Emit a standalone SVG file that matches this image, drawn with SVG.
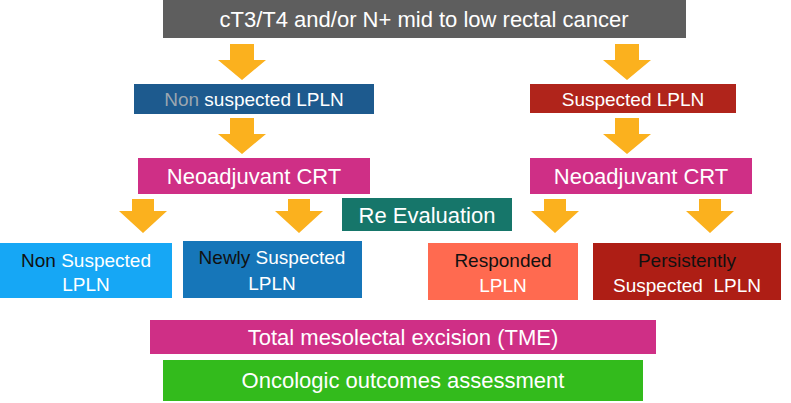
<svg xmlns="http://www.w3.org/2000/svg" width="791" height="403" viewBox="0 0 791 403">
<style>
text{font-family:"Liberation Sans",Arial,sans-serif;fill:#fff;text-anchor:middle}
.l{font-size:22px}.m{font-size:19px}.k{fill:#111}.g{fill:#9aa6b0}
.a{fill:#fbb11e}
</style>
<defs>
<path id="arr" d="M-12,0 H12 V16 H24 L0,36 L-24,16 H-12 Z"/>
<path id="arrs" d="M-11,0 H11 V12 H24 L0,34 L-24,12 H-11 Z"/>
</defs>
<g id="connectors" class="a">
<use href="#arr" x="242" y="44"/>
<use href="#arr" x="627" y="44"/>
<use href="#arr" x="242" y="118"/>
<use href="#arr" x="627" y="118"/>
<use href="#arrs" x="143" y="199"/>
<use href="#arrs" x="299" y="199"/>
<use href="#arrs" x="555" y="199"/>
<use href="#arrs" x="710" y="199"/>
</g>
<g id="top"><rect x="163" y="0" width="523" height="38" fill="#5e5e5e"/><text class="l" x="424" y="27">cT3/T4 and/or N+ mid to low rectal cancer</text></g>
<g id="nonsusp"><rect x="134" y="84" width="240" height="30" fill="#1d5a8e"/><text class="m" x="254" y="106"><tspan class="g">Non</tspan> suspected LPLN</text></g>
<g id="susp"><rect x="530" y="84" width="206" height="29" fill="#b0241b"/><text class="m" x="633" y="106">Suspected LPLN</text></g>
<g id="crt1"><rect x="138" y="158" width="232" height="36" fill="#cf2f86"/><text class="l" x="254" y="184">Neoadjuvant CRT</text></g>
<g id="crt2"><rect x="530" y="158" width="222" height="36" fill="#cf2f86"/><text class="l" x="641" y="184">Neoadjuvant CRT</text></g>
<g id="reeval"><rect x="342" y="198" width="170" height="33" fill="#16766a"/><text class="l" x="427" y="223">Re Evaluation</text></g>
<g id="n1"><rect x="0" y="243" width="172" height="55" fill="#16a7f5"/><text class="m" x="86" y="267"><tspan class="k">Non</tspan> Suspected</text><text class="m" x="86" y="291">LPLN</text></g>
<g id="n2"><rect x="183" y="241" width="179" height="57" fill="#1676b9"/><text class="m" x="272" y="264"><tspan class="k">Newly</tspan> Suspected</text><text class="m" x="272" y="290">LPLN</text></g>
<g id="n3"><rect x="428" y="243" width="150" height="57" fill="#ff6a50"/><text class="m k" x="503" y="267">Responded</text><text class="m" x="503" y="292">LPLN</text></g>
<g id="n4"><rect x="593" y="243" width="188" height="57" fill="#ae1e15"/><text class="m k" x="687" y="267">Persistently</text><text class="m" x="687" y="292" xml:space="preserve">Suspected  LPLN</text></g>
<g id="tme"><rect x="150" y="320" width="506" height="34" fill="#cf2f86"/><text class="l" x="403" y="345">Total mesolectal excision (TME)</text></g>
<g id="onc"><rect x="163" y="360" width="480" height="41" fill="#33bb1c"/><text class="l" x="403" y="388">Oncologic outcomes assessment</text></g>
</svg>
